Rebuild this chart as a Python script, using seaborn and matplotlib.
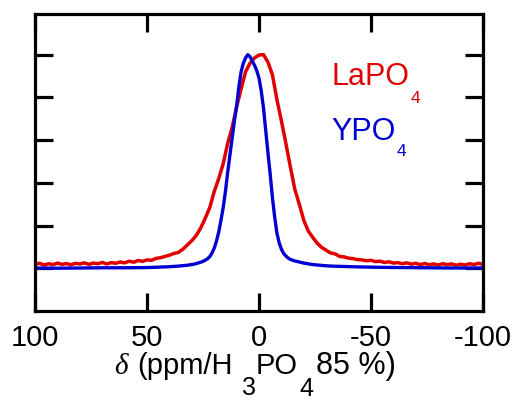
import matplotlib
matplotlib.use("Agg")
import matplotlib.pyplot as plt
import seaborn as sns
import pandas as pd

# 31P MAS NMR spectra, normalised intensity vs chemical shift (ppm)
la_shift = [100, 98, 96, 94, 92, 90, 88, 86, 84, 82, 80, 78, 76, 74, 72, 70,
            68, 66, 64, 62, 60, 58, 56, 54, 52, 50, 48, 46, 44, 42, 40, 38,
            36, 34, 32, 30, 28, 26, 24, 22, 20, 18, 16, 14, 12, 10, 8, 6, 4,
            2, 0, -2, -4, -6, -8, -10, -12, -14, -16, -18, -20, -22, -24, -26,
            -28, -30, -32, -34, -36, -38, -40, -42, -44, -46, -48, -50, -52,
            -54, -56, -58, -60, -62, -64, -66, -68, -70, -72, -74, -76, -78,
            -80, -82, -84, -86, -88, -90, -92, -94, -96, -98, -100]
la_int = [0.020, 0.024, 0.016, 0.022, 0.018, 0.025, 0.019, 0.023, 0.017, 0.024,
          0.021, 0.026, 0.019, 0.025, 0.022, 0.028, 0.021, 0.027, 0.024, 0.030,
          0.026, 0.034, 0.029, 0.037, 0.033, 0.040, 0.038, 0.047, 0.050, 0.056,
          0.062, 0.070, 0.075, 0.090, 0.110, 0.130, 0.155, 0.190, 0.235, 0.285,
          0.360, 0.420, 0.490, 0.585, 0.660, 0.755, 0.840, 0.920, 0.960, 0.985,
          0.998, 1.000, 0.965, 0.905, 0.790, 0.690, 0.585, 0.475, 0.370, 0.300,
          0.225, 0.175, 0.145, 0.118, 0.098, 0.085, 0.072, 0.068, 0.056, 0.054,
          0.048, 0.046, 0.041, 0.040, 0.036, 0.038, 0.032, 0.034, 0.028, 0.031,
          0.025, 0.027, 0.022, 0.026, 0.020, 0.024, 0.018, 0.023, 0.017, 0.021,
          0.016, 0.022, 0.018, 0.021, 0.015, 0.020, 0.016, 0.022, 0.018, 0.024,
          0.019]

y_shift = [100, 90, 80, 70, 60, 50, 45, 40, 36, 32, 29, 27, 25, 23, 22, 21, 20,
           19, 18, 17, 16, 15, 14, 13, 12, 11, 10, 9, 8, 7, 6, 5, 4, 3, 2, 1, 0,
           -1, -2, -3, -4, -5, -6, -7, -8, -9, -10, -11, -12, -13, -14, -16,
           -18, -20, -24, -28, -32, -38, -45, -55, -65, -75, -85, -100]
y_int = [0.002, 0.001, 0.002, 0.003, 0.003, 0.004, 0.006, 0.008, 0.011, 0.015,
         0.020, 0.026, 0.033, 0.045, 0.055, 0.072, 0.095, 0.128, 0.170, 0.225,
         0.285, 0.360, 0.450, 0.530, 0.610, 0.690, 0.760, 0.850, 0.920, 0.960,
         0.985, 1.000, 0.990, 0.970, 0.950, 0.925, 0.890, 0.830, 0.750, 0.645,
         0.540, 0.440, 0.330, 0.240, 0.165, 0.120, 0.090, 0.070, 0.058, 0.049,
         0.042, 0.035, 0.030, 0.025, 0.018, 0.014, 0.011, 0.009, 0.007, 0.005,
         0.004, 0.003, 0.002, 0.002]

xticks = [100, 50, 0, -50, -100]
red = "#e00000"
blue = "#0000d4"

sns.set_style("ticks")
plt.rcParams["font.family"] = ["Liberation Sans", "DejaVu Sans"]

la = pd.DataFrame({"shift": la_shift, "intensity": la_int})
yp = pd.DataFrame({"shift": y_shift, "intensity": y_int})

W, H = 517, 401
fig = plt.figure(figsize=(W / 100, H / 100), dpi=100)
ax = fig.add_axes([0.068, 0.224, 0.866, 0.741])

sns.lineplot(data=la, x="shift", y="intensity", sort=False, color=red,
             linewidth=2.5, ax=ax)
sns.lineplot(data=yp, x="shift", y="intensity", sort=False, color=blue,
             linewidth=2.4, ax=ax)

ax.set_xlim(100, -100)
ax.set_ylim(-0.2, 1.19)
ax.set_xticks(xticks)
ax.set_xticklabels([str(t) for t in xticks])
ax.set_yticks([0, 0.2, 0.4, 0.6, 0.8, 1.0])
ax.set_yticklabels([])
ax.set_xlabel("")
ax.set_ylabel("")
for s in ax.spines.values():
    s.set_linewidth(2.3)
    s.set_color("black")
    s.set_visible(True)
ax.tick_params(axis="both", direction="in", length=13, width=2.3,
               color="black", labelcolor="black",
               top=True, right=True, labelsize=21, pad=9)


def put(txt, x, y, size, color="black", **kw):
    # place a text piece with its baseline at image pixel (x, y from top)
    return fig.text(x / W, 1 - y / H, txt, fontsize=size, color=color,
                    va="baseline", ha="left", **kw)


# x axis label, with sub-scripts
put("δ", 114, 374, 21, family="Liberation Serif", style="italic")
put("(ppm/H", 137, 374, 21)
put("3", 242, 395, 18)
put("PO", 256, 374, 21)
put("4", 299, 396, 18)
put("85 %)", 316, 374, 22)

# curve labels
put("LaPO", 331, 85, 22, red)
put("4", 411, 103, 12.5, red)
put("YPO", 331, 140, 22, blue)
put("4", 397, 156, 12.5, blue)

fig.savefig("out.png", dpi=100)
